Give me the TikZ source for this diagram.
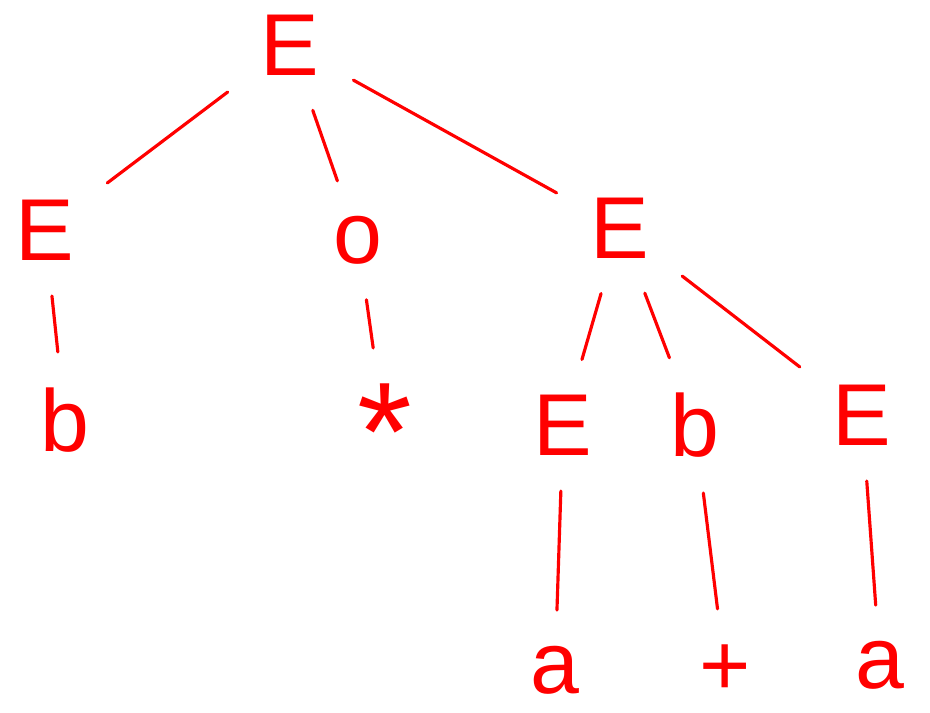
\documentclass[tikz,border=0pt]{standalone}
\usepackage{fontspec}
\setmainfont{Liberation Sans}
\usepackage{tikz}
\usetikzlibrary{positioning}

\begin{document}
\begin{tikzpicture}[node distance=1.5cm]
        % Styles
        \tikzstyle{sym} = [text=red, font=\fontsize{25}{30}\selectfont, inner sep=6pt]
        \tikzstyle{branch} = [draw=red, line width=0.9pt, line cap=round, shorten <=4pt, shorten >=4pt]

        \useasboundingbox (0,0) rectangle (9.3,7.12);

        % Nodes
        \node[sym] (e0) at (2.90,6.67) {E};
        \node[sym] (e1) at (0.45,4.82) {E};
        \node[sym] (op) at (3.58,4.72) {o};
        \node[sym] (e2) at (6.20,4.84) {E};
        \node[sym] (b1) at (0.65,2.92) {b};
        \node[sym, font=\fontsize{40}{44}\selectfont] (st) at (3.85,2.80) {*};
        \node[sym] (e3) at (5.63,2.87) {E};
        \node[sym] (b2) at (6.95,2.87) {b};
        \node[sym] (e4) at (8.62,2.97) {E};
        \node[sym] (a1) at (5.55,0.42) {a};
        \node[sym] (pl) at (7.25,0.42) {+};
        \node[sym] (a2) at (8.80,0.47) {a};

        % Paths
        \draw[branch] (e0) -- (e1);
        \draw[branch] (e0) -- (op);
        \draw[branch] (e0) -- (e2);
        \draw[branch] (e1) -- (b1);
        \draw[branch] (op) -- (st);
        \draw[branch] (e2) -- (e3);
        \draw[branch] (e2) -- (b2);
        \draw[branch] (e2) -- (e4);
        \draw[branch] (e3) -- (a1);
        \draw[branch] (b2) -- (pl);
        \draw[branch] (e4) -- (a2);
    \end{tikzpicture}
\end{document}
